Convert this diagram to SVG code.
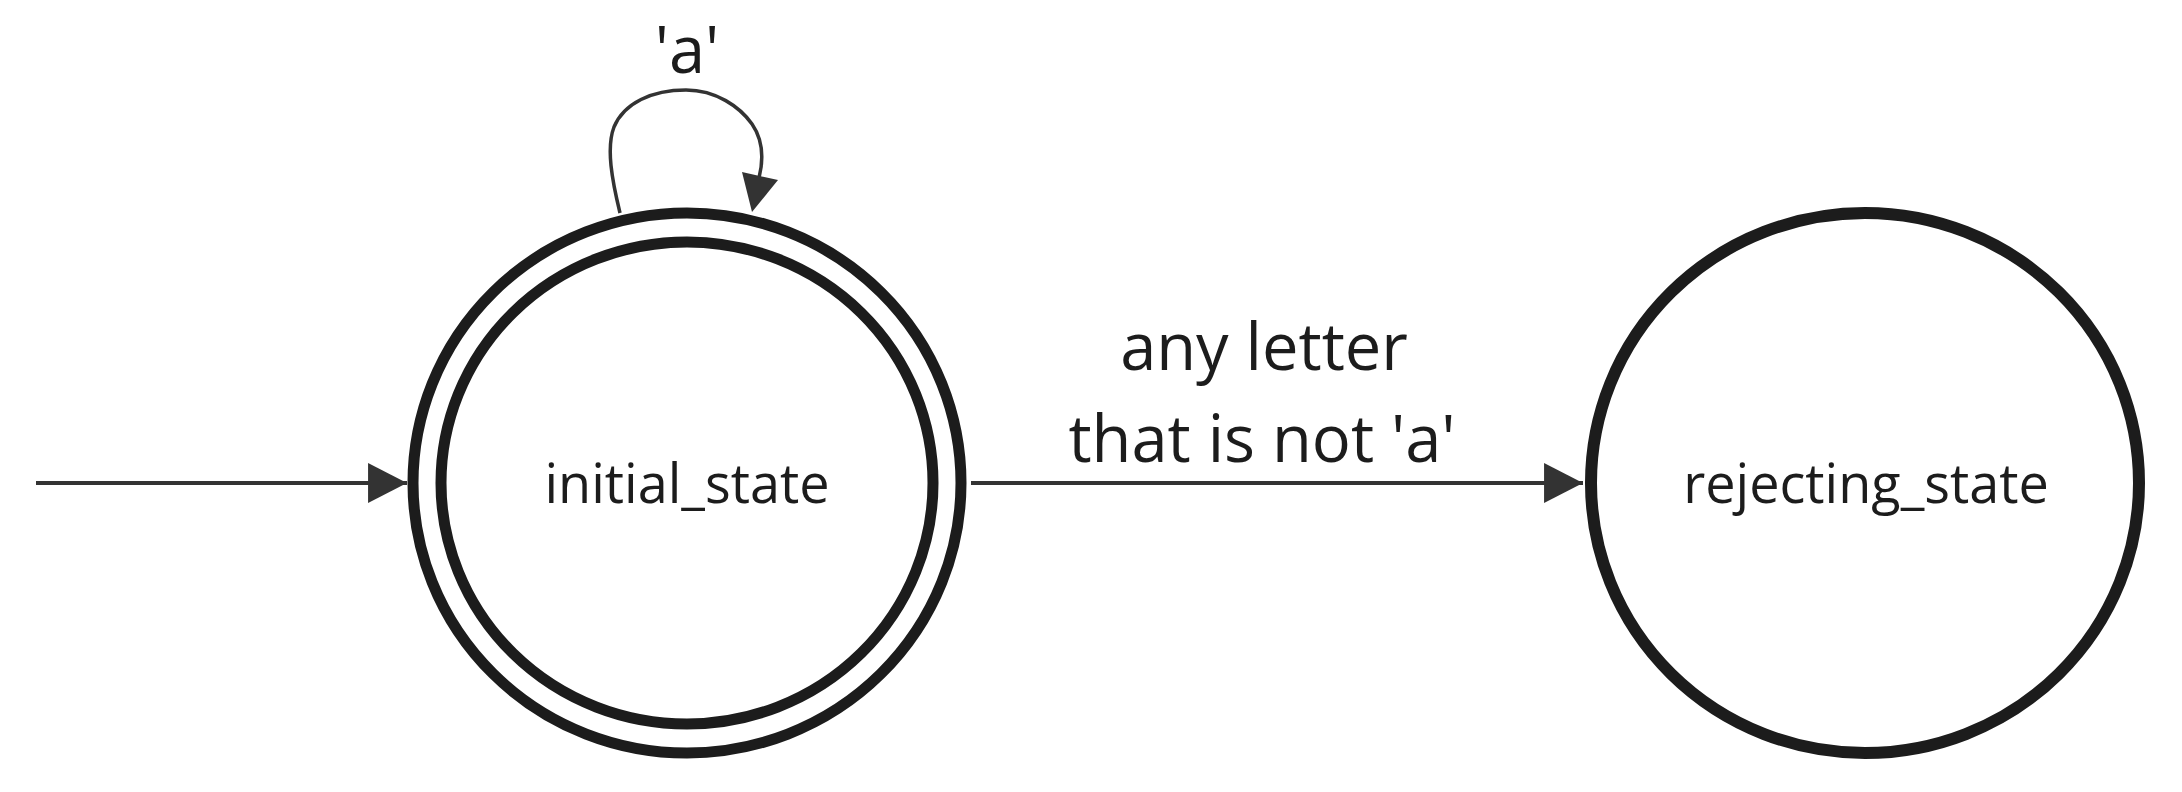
<svg xmlns="http://www.w3.org/2000/svg" width="2182" height="792" viewBox="0 0 2182 792">
<style>
.state{fill:none;stroke:#1c1c1c;stroke-width:11}
.conn{fill:none;stroke:#333333;stroke-width:4}
.loop{fill:none;stroke:#333333;stroke-width:3.5}
.nlabel{font-family:"Open Sans","Noto Sans",sans-serif;font-size:54px;fill:#1c1c1c;text-anchor:middle}
.elabel{font-family:"Open Sans","Noto Sans",sans-serif;font-size:65px;fill:#1c1c1c;text-anchor:middle}
</style>
<defs>
<marker id="arrow" markerUnits="userSpaceOnUse" markerWidth="40" markerHeight="40" viewBox="0 0 37 38" refX="37" refY="19" orient="auto">
<path d="M0,0 L37,19 L0,38 Z" fill="#333333"/>
</marker>
</defs>
<rect width="2182" height="792" fill="#ffffff"/>
<g id="connectors">
<line class="conn" x1="36" y1="483" x2="407" y2="483" marker-end="url(#arrow)"/>
<line class="conn" x1="971" y1="483" x2="1583" y2="483" marker-end="url(#arrow)"/>
<path class="loop" d="M620,213 C612,180 606,148 614,127 C624,103 652,90 686,90 C716,90 740,107 752,124 C763,140 764,158 759,178" />
<path d="M742,172 L778,180 L752,212 Z" fill="#333333"/>
<text class="elabel" x="687" y="73">'a'</text>
<text class="elabel" x="1264" y="370">any letter</text>
<text class="elabel" x="1262" y="462">that is not 'a'</text>
</g>
<g id="initial_state">
<ellipse class="state" cx="687" cy="483" rx="274" ry="270"/>
<ellipse class="state" cx="687" cy="483" rx="246" ry="241"/>
<text class="nlabel" x="687" y="503">initial_state</text>
</g>
<g id="rejecting_state">
<ellipse class="state" cx="1865" cy="483" rx="274" ry="270" style="stroke-width:12"/>
<text class="nlabel" x="1866" y="503">rejecting_state</text>
</g>
</svg>
